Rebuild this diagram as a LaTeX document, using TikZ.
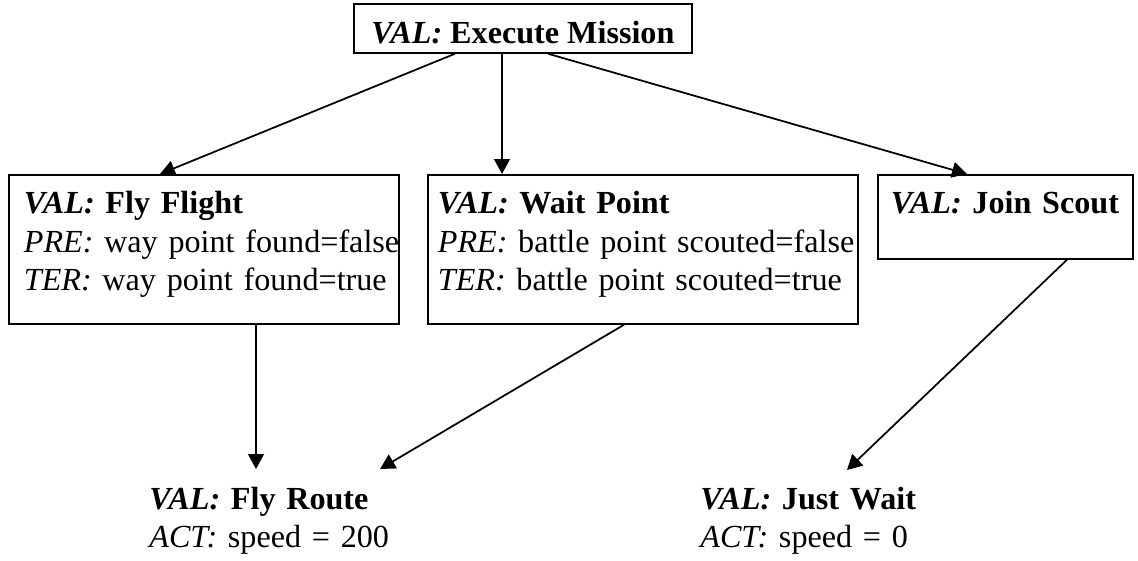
\documentclass[tikz,border=0pt]{standalone}
\usepackage{fontspec}
\setmainfont{Liberation Serif}
\usetikzlibrary{calc,positioning,arrows.meta}

\tikzset{
  goalbox/.style={draw, line width=1pt, anchor=north west, inner ysep=0pt,
    align=left, text height=0.78cm, font=\fontsize{18.3}{21.9}\selectfont,
    execute at begin node={\hyphenpenalty=10000}},
  actnode/.style={anchor=base west, inner sep=0pt, align=left, text width=6cm,
    font=\fontsize{18.3}{21.9}\selectfont},
  link/.style={line width=1pt, -{Triangle[length=8.5pt,width=9pt]}}
}
\newcommand{\valtag}{\textbf{\textit{VAL:}}}

\begin{document}
\begin{tikzpicture}
  \useasboundingbox (0,0) rectangle (22.76,11.2);

  \node[draw, line width=1pt, anchor=north west, inner sep=0pt, minimum width=6.76cm,
    text height=0.80cm, text depth=0.18cm, font=\fontsize{18.3}{21.9}\selectfont]
    (mission) at (7.06,11.14) {\valtag~\textbf{Execute~Mission}};

  \node[goalbox, inner xsep=0.3cm, text width=7.2cm, text depth=2.2cm] (flight) at (0.16,7.72)
    {\valtag~\textbf{Fly~Flight}\\ \textit{PRE:}~way~point~found=false\\ \textit{TER:}~way~point~found=true};
  \node[goalbox, inner xsep=0.2cm, text width=8.2cm, text depth=2.2cm] (waitpt) at (8.54,7.72)
    {\valtag~\textbf{Wait~Point}\\ \textit{PRE:}~battle~point~scouted=false\\ \textit{TER:}~battle~point~scouted=true};
  \node[goalbox, inner xsep=0.26cm, text width=4.58cm, text depth=0.9cm] (scout) at (17.54,7.72)
    {\valtag~\textbf{Join~Scout}};

  \node[actnode] (route) at (2.98,1.02) {\valtag~\textbf{Fly~Route}\\ \textit{ACT:}~speed~=~200};
  \node[actnode] (justwait) at (14.0,1.02) {\valtag~\textbf{Just~Wait}\\ \textit{ACT:}~speed~=~0};

  \draw[link] ([xshift=2.04cm]mission.south west) -- ([xshift=3.04cm]flight.north west);
  \draw[link] ([xshift=2.98cm]mission.south west) -- ([xshift=1.50cm]waitpt.north west);
  \draw[link] ([xshift=3.90cm]mission.south west) -- ([xshift=1.80cm]scout.north west);

  \draw[link] ([xshift=4.96cm]flight.south west) -- ([shift={(2.14,0.8)}]route.base west);
  \draw[link] ([xshift=3.94cm]waitpt.south west) -- ([shift={(4.62,0.8)}]route.base west);
  \draw[link] ([xshift=3.80cm]scout.south west) -- ([shift={(2.94,0.78)}]justwait.base west);
\end{tikzpicture}
\end{document}
